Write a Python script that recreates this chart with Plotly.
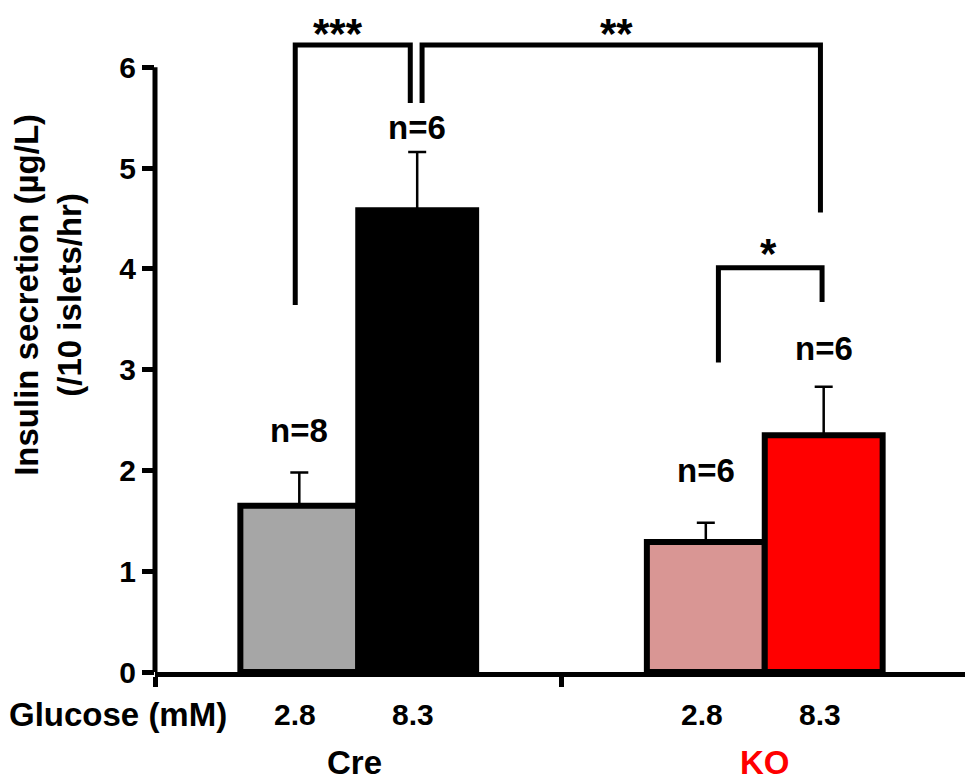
import plotly.graph_objects as go

# ---- data ----
groups = ["Cre", "KO"]
group_colors = ["#000000", "#FF0000"]
glucose_levels = ["2.8", "8.3"]
mean_low = [1.65, 1.29]      # 2.8 mM
mean_high = [4.58, 2.35]     # 8.3 mM
sem_low = [0.33, 0.19]
sem_high = [0.58, 0.48]
n_low = [8, 6]
n_high = [6, 6]
fill_low = ["#A6A6A6", "#D99694"]
fill_high = ["#000000", "#FF0000"]
y_ticks = [0, 1, 2, 3, 4, 5, 6]

FONT = "Arial, 'Liberation Sans', sans-serif"
BARGAP = 0.42
OFF = (1 - BARGAP) / 4  # offset of each bar's center from the group center
Y_MAX = 6.3
N_CAT = len(groups)


def cat_to_paper(xc):
    return (xc + 0.5) / N_CAT


fig = go.Figure()
for means, sems, fills, name in [(mean_low, sem_low, fill_low, "2.8"),
                                 (mean_high, sem_high, fill_high, "8.3")]:
    fig.add_trace(go.Bar(
        x=groups, y=means, name=name,
        marker=dict(color=fills, line=dict(color="black", width=6)),
        error_y=dict(type="data", array=sems, arrayminus=[0] * len(sems),
                     symmetric=False, color="black", thickness=2.5, width=9),
        showlegend=False,
    ))

ann = []
# n labels (inside plot range -> data coords)
n_y_low = [2.40, 2.00]
n_y_high = [5.40, 3.21]
for i in range(N_CAT):
    ann.append(dict(x=i - OFF, y=n_y_low[i], text=f"n={n_low[i]}", size=33))
    ann.append(dict(x=i + OFF, y=n_y_high[i], text=f"n={n_high[i]}", size=33))
    # glucose tick labels (below axis -> paper y)
    ann.append(dict(x=i - OFF, y=-0.417, text=glucose_levels[0], size=30, paper=True, xshift=-4))
    ann.append(dict(x=i + OFF, y=-0.417, text=glucose_levels[1], size=30, paper=True, xshift=-4))
    ann.append(dict(x=i, y=-0.893, text=groups[i], size=33, color=group_colors[i],
                    paper=True, xshift=-4 if i == 0 else 0))
ann.append(dict(x=-0.59, y=-0.417, text="Glucose (mM)", size=33, paper=True, xpaper=True))
# significance star (inside range)
ann.append(dict(x=1.01, y=4.15, text="*", size=42))

annotations = []
for a in ann:
    paper = a.get("paper", False)
    xpaper = a.get("xpaper", False)
    annotations.append(dict(
        xref="paper" if xpaper else "x", yref="paper" if paper else "y",
        x=cat_to_paper(a["x"]) if xpaper else a["x"],
        y=a["y"] / Y_MAX if paper else a["y"],
        xshift=a.get("xshift", 0),
        text=a["text"], showarrow=False, xanchor="center", yanchor="middle",
        font=dict(family=FONT, size=a["size"], color=a.get("color", "black"), weight="bold"),
    ))

# top significance stars, anchored to the very top of the figure
TOP_PAPER = 1 + 29 / 635
for xc, txt in [(-0.05, "***"), (0.635, "**")]:
    annotations.append(dict(
        xref="x", yref="paper", x=xc, y=TOP_PAPER, yanchor="top", xanchor="center",
        text=txt, showarrow=False,
        font=dict(family=FONT, size=42, color="black", weight="bold"),
    ))

# y axis title
annotations.append(dict(
    xref="paper", yref="paper", x=-0.1316, y=0.594, showarrow=False,
    text="Insulin secretion (µg/L)<br>(/10 islets/hr)", textangle=-90,
    xanchor="center", yanchor="middle",
    font=dict(family=FONT, size=33, color="black", weight="bold"),
))

# significance brackets (x in category units, y in data units)
brackets = [
    # (x_left, x_right, y_top, y_left_bottom, y_right_bottom)
    (-0.155, 0.128, 6.22, 3.64, 5.645),
    (0.157, 1.137, 6.22, 5.645, 4.56),
    (0.886, 1.141, 4.01, 3.07, 3.67),
]
shapes = []
for xl, xr, yt, ylb, yrb in brackets:
    shapes.append(dict(type="path", xref="x", yref="y",
                       path=f"M {xl},{ylb} L {xl},{yt} L {xr},{yt} L {xr},{yrb}",
                       line=dict(color="black", width=5)))
# y axis line (0 to 6 only)
shapes.append(dict(type="line", xref="paper", yref="y", x0=0, x1=0, y0=0, y1=6,
                   line=dict(color="black", width=5)))

fig.update_layout(
    width=965, height=774,
    margin=dict(l=147, r=5, t=29, b=110),
    paper_bgcolor="white", plot_bgcolor="white",
    barmode="group", bargap=BARGAP, bargroupgap=0,
    font=dict(family=FONT, size=30, color="black", weight="bold"),
    annotations=annotations, shapes=shapes,
    xaxis=dict(type="category", range=[-0.5, 1.5], tickson="boundaries",
               showticklabels=False, ticks="outside", ticklen=10, tickwidth=5,
               tickcolor="black", showline=True, linecolor="black", linewidth=5,
               showgrid=False, zeroline=False, fixedrange=True),
    yaxis=dict(range=[0, Y_MAX], tickvals=y_ticks, ticks="outside", ticklen=12,
               tickwidth=5, tickcolor="black", showline=False, showgrid=False,
               zeroline=False,
               tickfont=dict(family=FONT, size=30, color="black", weight="bold")),
)

fig.write_html("out.html")
